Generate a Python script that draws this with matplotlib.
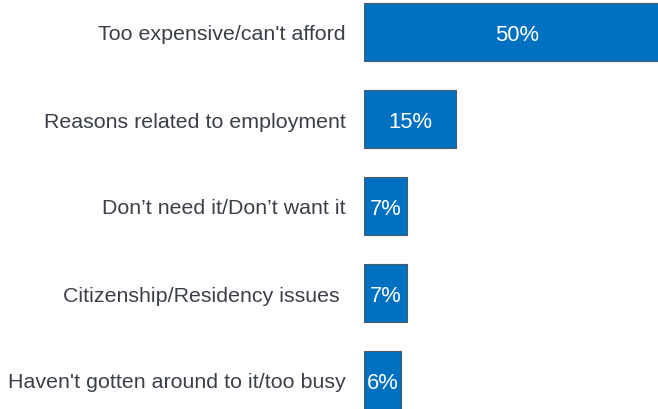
import matplotlib.pyplot as plt

categories = [
    "Too expensive/can't afford",
    "Reasons related to employment",
    "Don\u2019t need it/Don\u2019t want it",
    "Citizenship/Residency issues ",
    "Haven't gotten around to it/too busy",
]
values = [50, 15, 7, 7, 6]

plt.rcParams['font.family'] = ['Liberation Sans', 'DejaVu Sans']

fig = plt.figure(figsize=(6.58, 4.10), dpi=100)
W, H = 658, 410
# axes placed in pixels; the chart is cropped at the right and bottom edges
ax = fig.add_axes([364 / W, -14.5 / H, 307 / W, 435 / H])

pos = list(range(len(categories)))
ax.barh(pos, values, height=0.667, color='#0070C0', edgecolor='#4d5a66', linewidth=0.8)
for y, v in zip(pos, values):
    ax.text(v / 2, y, f"{v}%", ha='center', va='center_baseline', color='white', fontsize=15.8)

ax.set_xlim(0, 50)
ax.set_ylim(len(categories) - 0.5, -0.5)
ax.set_yticks(pos)
ax.set_yticklabels(categories, fontsize=15.4, color='#3b3f48')
ax.tick_params(axis='y', length=0, pad=13)
ax.set_xticks([])
for s in ax.spines.values():
    s.set_visible(False)

fig.savefig('out.png', dpi=100)
